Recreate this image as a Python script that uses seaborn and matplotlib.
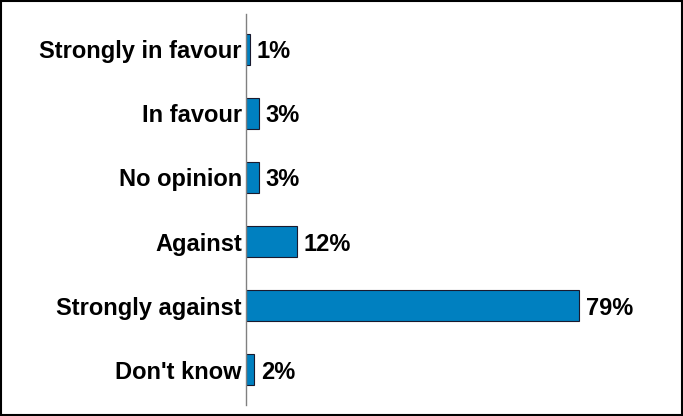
import matplotlib
matplotlib.use('Agg')
import matplotlib.pyplot as plt
import seaborn as sns
import pandas as pd
from matplotlib.patches import Rectangle

# ==========================================
# data
# ==========================================
categories = ['Strongly in favour', 'In favour', 'No opinion', 'Against',
              'Strongly against', "Don't know"]
values = [1, 3, 3, 12, 79, 2]

df = pd.DataFrame({'category': categories, 'value': values})

sns.set_theme(style='white')
plt.rcParams['font.family'] = ['Liberation Sans', 'DejaVu Sans']

fig = plt.figure(figsize=(6.83, 4.16), dpi=100)
ax = fig.add_axes([246 / 683, 1 - 405 / 416, (668 - 246) / 683, (405 - 14) / 416])

sns.barplot(data=df, x='value', y='category', orient='h', color='#0080C0',
            width=0.48, edgecolor='#1a1a2e', linewidth=0.8, saturation=1, ax=ax)

# bar value labels
for i, v in enumerate(values):
    ax.text(v + 1.6, i, f'{v}%', va='center_baseline', ha='left',
            fontsize=17, fontweight='bold', color='black')

ax.set_xlim(0, 100)
ax.set_ylim(5.55, -0.55)
ax.set_xlabel('')
ax.set_ylabel('')
ax.set_xticks([])
ax.tick_params(axis='y', length=0, pad=3)
for lbl in ax.get_yticklabels():
    lbl.set_fontsize(17)
    lbl.set_fontweight('bold')
    lbl.set_color('black')

for side in ['top', 'right', 'bottom']:
    ax.spines[side].set_visible(False)
ax.spines['left'].set_color('#808080')
ax.spines['left'].set_linewidth(1.0)

# border round the whole picture
fig.patches.append(Rectangle((0.001, 0.002), 0.997, 0.996, transform=fig.transFigure,
                             fill=False, edgecolor='black', linewidth=1.5))

plt.savefig('out.png', dpi=100)
